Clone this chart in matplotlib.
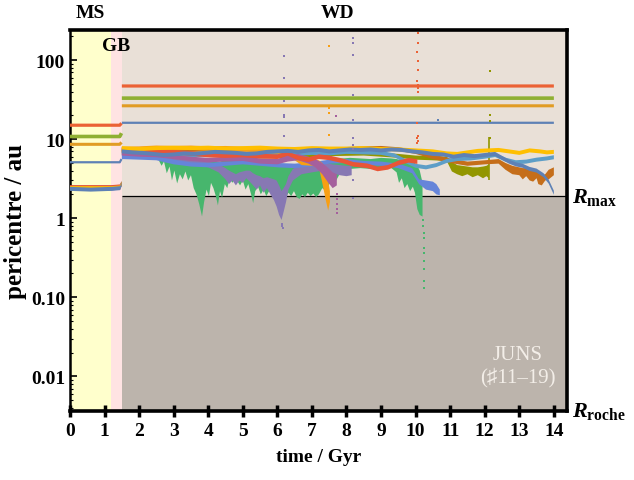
import numpy as np
import matplotlib
matplotlib.use("Agg")
import matplotlib.pyplot as plt
import matplotlib.transforms as mtransforms

plt.rcParams['font.family'] = ['Liberation Serif', 'DejaVu Serif', 'DejaVu Sans']
plt.rcParams['font.weight'] = 'bold'
plt.rcParams['mathtext.fontset'] = 'custom'
plt.rcParams['mathtext.rm'] = 'Liberation Serif:bold'
plt.rcParams['mathtext.it'] = 'Liberation Serif:italic:bold'

nan = np.nan

# phase boundaries (Gyr) and critical radii (au)
t_ms_end = 1.18
t_gb_end = 1.5
r_max = 1.9
r_roche = 0.0037

# outer planets: (time, pericentre)
far_red = [(0, 15.0), (1.44, 15.0), (1.49, 15.9), (1.495, nan), (1.5, 47.0), (14.0, 47.0)]
far_green = [(0, 10.8), (1.44, 10.8), (1.49, 11.9), (1.495, nan), (1.5, 33.0), (14.0, 33.0)]
far_orange = [(0, 8.6), (1.44, 8.6), (1.49, 9.1), (1.495, nan), (1.5, 26.4), (14.0, 26.4)]
far_blue = [(0, 5.1), (1.44, 5.1), (1.49, 5.6), (1.495, nan), (1.5, 16.1), (14.0, 16.1)]

# inner planets: (time, lower, upper) pericentre envelope
inner_green = [(0, 2.3, 2.5), (1.2, 2.3, 2.5), (1.45, 2.35, 2.55), (1.49, 2.6, 2.85), (1.495, nan, nan),
               (1.5, 6.9, 7.9), (1.8, 6.8, 7.7), (2.1, 6.6, 7.5), (2.4, 6.2, 7.3), (2.55, 5.6, 7.1),
               (2.65, 4.6, 6.9), (2.72, 5.2, 6.6), (2.8, 3.7, 6.4), (2.88, 4.5, 6.0), (2.95, 3.0, 5.8),
               (3.02, 4.0, 5.7), (3.1, 2.75, 5.6), (3.18, 3.6, 5.6), (3.26, 3.1, 5.7), (3.34, 3.9, 5.7),
               (3.42, 3.0, 5.5), (3.5, 3.5, 5.4), (3.58, 2.4, 5.3), (3.66, 2.0, 5.2), (3.74, 1.5, 5.2),
               (3.82, 1.05, 5.1), (3.88, 1.6, 5.2), (3.95, 2.3, 5.3), (4.02, 1.9, 5.4), (4.08, 2.8, 5.5),
               (4.15, 2.4, 5.4), (4.22, 1.9, 5.3), (4.28, 1.45, 5.2), (4.34, 2.2, 5.2), (4.4, 1.8, 5.3),
               (4.48, 2.7, 5.5), (4.55, 2.4, 5.6), (4.62, 3.2, 5.6), (4.7, 2.8, 5.7), (4.78, 3.3, 5.7),
               (4.85, 2.9, 5.6), (4.92, 2.6, 5.5), (5.0, 3.0, 5.4), (5.08, 2.3, 5.3), (5.16, 2.7, 5.2),
               (5.24, 2.0, 5.1), (5.3, 1.55, 5.0), (5.36, 2.2, 4.9), (5.44, 2.5, 4.8), (5.52, 2.0, 4.8),
               (5.6, 2.3, 4.7), (5.68, 1.9, 4.7), (5.76, 2.2, 4.6), (5.84, 2.0, 4.6), (5.92, 2.3, 4.7),
               (6.0, 2.0, 4.7), (6.08, 1.8, 4.6), (6.16, 2.1, 4.6), (6.24, 1.8, 4.7), (6.32, 2.1, 4.8),
               (6.4, 1.9, 4.7), (6.48, 2.2, 4.6), (6.56, 1.85, 4.5), (6.64, 1.75, 4.5), (6.72, 2.0, 4.5),
               (6.8, 1.85, 4.6), (6.88, 2.1, 4.6), (6.96, 1.9, 4.7), (7.04, 2.05, 4.7), (7.12, 1.85, 4.8),
               (7.2, 2.0, 4.9), (7.3, 2.4, 5.1), (7.4, 2.2, 5.2), (7.5, 2.7, 5.4), (7.6, 2.9, 5.5),
               (7.7, 3.0, 5.6), (7.8, 3.6, 5.7), (7.9, 3.9, 5.7), (8.1, 4.2, 5.8), (8.4, 4.3, 5.7),
               (8.7, 4.2, 5.6), (9.0, 4.4, 5.8), (9.3, 4.3, 5.7), (9.45, 3.8, 5.6), (9.52, 2.8, 5.5),
               (9.6, 3.2, 5.5), (9.68, 2.4, 5.4), (9.76, 2.7, 5.4), (9.84, 2.2, 5.3), (9.92, 2.5, 5.1),
               (9.98, 2.1, 5.0), (10.05, 1.3, 4.6), (10.12, 1.1, 4.0), (10.2, 1.05, 2.8)]
inner_purple = [(0, 2.25, 2.45), (1.2, 2.25, 2.45), (1.45, 2.3, 2.5), (1.49, 2.55, 2.8), (1.495, nan, nan),
                (1.5, 6.3, 7.2), (2.0, 6.0, 6.9), (2.5, 5.6, 6.5), (3.0, 5.2, 6.0), (3.5, 4.9, 5.7),
                (4.0, 4.4, 5.2), (4.3, 3.8, 4.8), (4.5, 3.1, 4.3), (4.6, 2.7, 4.0), (4.7, 3.0, 3.8),
                (4.8, 2.6, 3.6), (4.9, 3.0, 3.8), (5.0, 2.8, 3.9), (5.1, 3.2, 4.0), (5.2, 2.9, 4.0),
                (5.3, 2.6, 3.7), (5.4, 2.3, 3.5), (5.5, 2.6, 3.4), (5.6, 2.1, 3.2), (5.7, 2.4, 3.3),
                (5.8, 2.0, 3.2), (5.9, 1.7, 3.1), (5.98, 1.4, 3.0), (6.05, 1.1, 2.6), (6.12, 0.95, 2.2),
                (6.18, 1.2, 2.4), (6.25, 1.6, 2.7), (6.32, 2.3, 3.4), (6.45, 3.0, 4.2),
                (6.7, 3.6, 4.8), (7.0, 3.8, 5.0), (7.3, 4.0, 5.1), (7.6, 3.7, 4.8), (7.8, 3.5, 4.7),
                (8.0, 3.4, 4.6), (8.15, 3.5, 4.6)]
inner_magenta = [(0, 2.3, 2.45), (1.2, 2.3, 2.45), (1.45, 2.35, 2.5), (1.49, 2.6, 2.8), (1.495, nan, nan),
                 (1.5, 6.2, 6.9), (2.0, 6.0, 6.7), (2.5, 5.9, 6.6), (3.0, 5.6, 6.3), (3.5, 5.3, 6.0),
                 (4.0, 5.1, 5.8), (4.5, 5.2, 6.0), (5.0, 5.3, 6.1), (5.5, 4.9, 5.7), (6.0, 4.8, 5.6),
                 (6.3, 5.2, 6.3), (6.6, 5.4, 6.5), (6.9, 4.9, 6.0), (7.1, 4.4, 5.6), (7.3, 3.6, 5.0),
                 (7.45, 2.9, 4.4), (7.6, 2.4, 3.8), (7.72, 2.6, 3.6)]
inner_orange = [(0, 2.35, 2.5), (1.2, 2.35, 2.5), (1.45, 2.4, 2.55), (1.49, 2.65, 2.85), (1.495, nan, nan),
                (1.5, 7.1, 8.0), (2.0, 7.2, 8.1), (2.5, 7.3, 8.3), (3.0, 7.2, 8.2), (3.5, 7.3, 8.3),
                (4.0, 7.1, 8.1), (4.5, 7.2, 8.2), (5.0, 7.0, 8.0), (5.5, 6.8, 7.8), (6.0, 6.5, 7.4),
                (6.4, 5.8, 6.8), (6.7, 4.7, 5.6), (7.0, 4.6, 5.5), (7.2, 4.4, 5.4), (7.3, 2.8, 5.0),
                (7.4, 1.7, 4.2), (7.47, 1.25, 3.0), (7.52, 1.6, 2.2)]
inner_royal = [(0, 2.25, 2.4), (1.2, 2.25, 2.4), (1.45, 2.3, 2.45), (1.49, 2.5, 2.7), (1.495, nan, nan),
               (1.5, 5.6, 6.4), (2.0, 5.5, 6.3), (2.5, 5.4, 6.2), (3.0, 4.8, 5.5), (3.5, 4.5, 5.1),
               (4.0, 4.4, 5.0), (4.5, 4.6, 5.2), (5.0, 4.8, 5.4), (5.5, 4.6, 5.2), (6.0, 4.4, 5.0),
               (6.5, 4.3, 4.9), (7.0, 4.5, 5.1), (7.5, 4.9, 5.5), (8.0, 5.0, 5.6), (8.5, 4.7, 5.3),
               (9.0, 4.6, 5.2), (9.5, 4.3, 4.9), (9.9, 3.7, 4.3), (10.1, 2.7, 3.1), (10.3, 2.3, 3.0),
               (10.5, 2.2, 2.9), (10.6, 2.0, 2.7), (10.7, 1.95, 2.3)]
inner_olive = [(0, 2.35, 2.5), (1.2, 2.35, 2.5), (1.45, 2.4, 2.55), (1.49, 2.65, 2.85), (1.495, nan, nan),
               (1.5, 6.6, 7.4), (2.5, 6.4, 7.2), (3.5, 6.2, 7.0), (4.5, 6.0, 6.8), (5.5, 5.7, 6.5),
               (6.5, 5.8, 6.6), (7.5, 6.1, 6.9), (8.5, 6.2, 7.0), (9.5, 5.8, 6.5), (10.0, 5.5, 6.2),
               (10.5, 5.4, 6.1), (10.9, 5.3, 6.0), (11.05, 3.9, 5.2), (11.2, 3.6, 4.7), (11.35, 3.4, 4.6),
               (11.5, 3.6, 4.5), (11.65, 3.3, 4.4), (11.8, 3.5, 4.4), (11.95, 3.2, 4.5), (12.05, 3.4, 4.6),
               (12.12, 3.2, 4.8)]
inner_brown = [(0, 2.4, 2.55), (1.2, 2.4, 2.55), (1.45, 2.45, 2.6), (1.49, 2.7, 2.9), (1.495, nan, nan),
               (1.5, 7.0, 7.8), (2.5, 6.9, 7.7), (3.5, 7.0, 7.8), (4.5, 6.9, 7.7), (5.5, 7.0, 7.8),
               (6.5, 7.1, 7.9), (7.5, 7.0, 7.8), (8.5, 7.3, 8.1), (9.0, 7.4, 8.2), (9.5, 7.1, 7.9),
               (10.0, 6.5, 7.3), (10.5, 5.6, 6.4), (11.0, 5.0, 5.7), (11.5, 4.6, 5.2), (12.0, 4.8, 5.4),
               (12.4, 4.9, 5.6), (12.6, 4.1, 5.0), (12.8, 3.6, 4.6), (13.0, 3.5, 4.4), (13.1, 3.1, 4.3),
               (13.2, 3.4, 4.3), (13.3, 3.0, 4.1), (13.4, 2.9, 4.0), (13.5, 3.2, 3.9), (13.55, 2.7, 3.8),
               (13.65, 2.6, 3.5), (13.75, 3.0, 3.6), (13.85, 3.1, 4.1), (14.0, 3.5, 4.4)]

# inner planets with a roughly constant band: (time, pericentre)
inner_red = [(0, 2.45), (1.2, 2.45), (1.45, 2.5), (1.49, 2.75), (1.495, nan),
             (1.5, 7.3), (2.0, 7.0), (2.5, 6.9), (3.0, 6.8), (3.5, 6.6), (4.0, 6.3), (4.5, 6.2),
             (5.0, 6.3), (5.5, 6.1), (6.0, 6.0), (6.3, 6.6), (6.6, 5.8), (6.9, 5.5), (7.2, 6.0),
             (7.5, 5.8), (7.9, 5.3), (8.2, 4.8), (8.6, 4.6), (8.9, 4.2), (9.2, 4.4), (9.5, 5.0),
             (9.8, 5.4), (10.05, 5.2)]
inner_lightblue = [(0, 2.45), (1.2, 2.45), (1.45, 2.5), (1.49, 2.8), (1.495, nan),
                   (1.5, 6.6), (2.0, 6.4), (2.5, 6.2), (3.0, 6.3), (3.5, 6.2), (4.0, 6.4), (4.5, 6.5),
                   (5.0, 6.3), (5.5, 6.4), (6.0, 6.6), (6.5, 6.5), (7.0, 6.7), (7.5, 6.6), (8.0, 6.9),
                   (8.5, 6.8), (9.0, 6.7), (9.4, 6.2), (9.7, 5.3), (10.0, 4.6), (10.3, 4.4), (10.6, 4.7),
                   (10.9, 5.3), (11.2, 5.6), (11.6, 5.7), (12.0, 6.0), (12.3, 6.3), (12.6, 5.5),
                   (12.9, 5.1), (13.2, 5.2), (13.5, 5.5), (13.8, 5.7), (14.0, 5.9)]
inner_yellow = [(0, 2.4), (1.2, 2.4), (1.45, 2.45), (1.49, 2.75), (1.495, nan),
                (1.5, 7.7), (2.0, 7.5), (2.5, 7.7), (3.0, 7.8), (3.5, 7.7), (4.0, 7.8), (4.5, 7.6),
                (5.0, 7.7), (5.5, 7.8), (6.0, 7.6), (6.5, 7.5), (7.0, 7.7), (7.5, 7.6), (8.0, 7.6),
                (8.5, 7.7), (9.0, 7.5), (9.5, 7.4), (10.0, 7.2), (10.5, 7.0), (10.9, 6.6), (11.2, 6.5),
                (11.5, 6.8), (11.8, 7.1), (12.1, 7.2), (12.4, 7.3), (12.7, 7.0), (13.0, 6.7),
                (13.3, 7.2), (13.6, 7.0), (13.8, 6.8), (14.0, 6.9)]
inner_blue = [(0, 2.35), (0.6, 2.3), (1.2, 2.35), (1.45, 2.4), (1.49, 2.7), (1.495, nan),
              (1.5, 7.0), (1.8, 6.8), (2.1, 6.7), (2.4, 6.5), (2.7, 6.3), (3.0, 6.4), (3.3, 6.6),
              (3.6, 6.5), (3.9, 6.7), (4.2, 6.9), (4.5, 6.8), (4.8, 6.7), (5.1, 6.5), (5.4, 6.6),
              (5.7, 6.9), (6.0, 7.0), (6.3, 7.1), (6.6, 6.9), (6.9, 7.2), (7.2, 7.3), (7.5, 7.0),
              (7.8, 7.2), (8.1, 7.4), (8.4, 7.3), (8.7, 7.4), (9.0, 7.2), (9.3, 7.4), (9.6, 7.3),
              (9.9, 7.0), (10.2, 6.8), (10.5, 6.5), (10.8, 6.4), (11.1, 6.0), (11.4, 6.3), (11.7, 6.1),
              (12.0, 6.3), (12.3, 6.5), (12.5, 5.8), (12.7, 5.2), (12.9, 4.8), (13.1, 4.6), (13.3, 4.2),
              (13.5, 4.0), (13.7, 3.5), (13.85, 2.9), (14.0, 2.1)]

# scattered encounter points: (time, pericentre)
dots_red = [(10.06, 220), (10.07, 164), (10.05, 126), (10.07, 97), (10.06, 75), (10.05, 54),
            (10.06, 48), (10.07, 44), (10.06, 40), (10.05, 16), (10.06, 11), (10.05, 10.3),
            (10.06, 9.5), (10.05, 8.9)]
dots_purple = [(6.2, 112), (6.2, 59), (6.2, 30), (6.2, 20), (6.2, 19), (6.2, 10.9),
               (6.14, 0.85), (6.14, 0.8), (6.15, 0.75),
               (8.18, 190), (8.18, 164), (8.18, 116), (8.18, 36), (8.18, 17.4), (8.18, 10.3),
               (8.18, 8.4), (8.18, 7.5), (8.18, 3.0), (8.18, 1.79)]
dots_orange = [(7.5, 150), (7.5, 24.7), (7.5, 21.3), (7.5, 11.2)]
dots_magenta = [(7.7, 19.5), (7.72, 2.0), (7.72, 1.75), (7.72, 1.5), (7.72, 1.3), (7.72, 1.16)]
dots_olive = [(12.15, 73), (12.15, 20), (12.15, 17), (12.15, 10.3)]
dots_green = [(10.22, 0.94), (10.22, 0.79), (10.23, 0.65), (10.23, 0.56), (10.24, 0.42),
              (10.24, 0.36), (10.24, 0.29), (10.25, 0.23), (10.25, 0.16), (10.25, 0.13)]
dots_blue = [(10.64, 17.4)]
olive_spike = (12.12, 3.0, 10.5)

c_blue = '#5E81B5'
c_orange = '#E19C24'
c_green = '#8FB032'
c_red = '#EB6235'
c_purple = '#8778B3'
c_brown = '#C56E1A'
c_lightblue = '#5D9EC7'
c_yellow = '#FFBF00'
c_magenta = '#A5609D'
c_olive = '#929600'
c_red2 = '#E95536'
c_royal = '#6685D9'
c_orange2 = '#F89F13'
c_emerald = '#47B66D'

fig = plt.figure(figsize=(6.34, 4.81), dpi=100)
ax = fig.add_axes([70/634, 1-411.5/481, 497/634, 380.5/481])
xmax = 14.38
ymin, ymax = r_roche, 240
ax.set_yscale('log')
ax.set_xlim(0, xmax)
ax.set_ylim(ymin, ymax)

# evolutionary phases
ax.axvspan(0, t_ms_end, color='#FFFFCC', lw=0, zorder=0)
ax.axvspan(t_ms_end, t_gb_end, color='#FFE3E3', lw=0, zorder=0)
ax.fill_between([t_gb_end, xmax], r_max, ymax, color='#E9E0D7', lw=0, zorder=0)
ax.fill_between([t_gb_end, xmax], ymin, r_max, color='#BCB4AC', lw=0, zorder=0)
ax.hlines(r_max, t_gb_end, xmax, color='k', lw=0.9, zorder=1)


def band(data, c, z):
    d = np.array(data, dtype=float)
    ax.fill_between(d[:, 0], d[:, 1], d[:, 2], color=c, lw=0, zorder=z)


def strip(data, c, z, spread=1.07):
    d = np.array(data, dtype=float)
    ax.fill_between(d[:, 0], d[:, 1]/spread, d[:, 1]*spread, color=c, lw=0, zorder=z)


def dots(data, c):
    d = np.array(data, dtype=float)
    ax.scatter(d[:, 0], d[:, 1], s=2.5, marker='s', color=c, lw=0, zorder=5)


# inner planets, back to front
band(inner_green, c_emerald, 2)
band(inner_purple, c_purple, 2.1)
band(inner_olive, c_olive, 2.2)
ax.vlines(olive_spike[0], olive_spike[1], olive_spike[2], color=c_olive, lw=1.2, zorder=2.2)
band(inner_brown, c_brown, 2.3)
strip(inner_lightblue, c_lightblue, 2.4, 1.06)
band(inner_royal, c_royal, 2.5)
band(inner_orange, c_orange2, 2.6)
band(inner_magenta, c_magenta, 2.7)
strip(inner_red, c_red2, 2.8)
strip(inner_yellow, c_yellow, 2.9, 1.06)
strip(inner_blue, c_blue, 3.0, 1.06)

for pts, c, lw in [(far_red, c_red, 2.3), (far_green, c_green, 2.6),
                   (far_orange, c_orange, 2.2), (far_blue, c_blue, 1.6)]:
    d = np.array(pts, dtype=float)
    ax.plot(d[:, 0], d[:, 1], color=c, lw=lw, solid_capstyle='butt', zorder=4)

dots(dots_red, c_red)
dots(dots_purple, c_purple)
dots(dots_orange, c_orange2)
dots(dots_magenta, c_magenta)
dots(dots_olive, c_olive)
dots(dots_green, c_emerald)
dots(dots_blue, c_blue)

# axes styling
ax.set_xticks(range(0, 15))
ax.set_yticks([0.01, 0.1, 1, 10, 100])
ax.set_yticklabels(['0.01', '0.10', '1', '10', '100'])
ax.tick_params(axis='x', direction='inout', length=9, width=2.5, labelsize=14, pad=4)
ax.tick_params(axis='y', which='major', direction='in', length=5, width=1.2, labelsize=14)
ax.tick_params(axis='y', which='minor', direction='in', length=2.5, width=0.8)
for lab in ax.get_xticklabels() + ax.get_yticklabels():
    lab.set_fontweight('bold')
for side in ['top', 'right', 'bottom']:
    ax.spines[side].set_linewidth(2.6)
ax.spines['left'].set_linewidth(1.8)

ax.set_xlabel('time / Gyr', fontsize=14, fontweight='bold', labelpad=6)
ax.set_ylabel('pericentre / au', fontsize=18, fontweight='bold', labelpad=3)

tr = mtransforms.blended_transform_factory(ax.transData, ax.transAxes)
ax.text(0.6, 1.045, 'MS', transform=tr, ha='center', va='center', fontsize=14, fontweight='bold')
ax.text(7.75, 1.045, 'WD', transform=tr, ha='center', va='center', fontsize=14, fontweight='bold')
ax.text(1.33, 0.958, 'GB', transform=tr, ha='center', va='center', fontsize=14, fontweight='bold')

tr2 = mtransforms.blended_transform_factory(ax.transAxes, ax.transData)
ax.text(1.01, r_max, r'$R_{\mathrm{max}}$', transform=tr2, ha='left', va='center', fontsize=16)
ax.text(1.01, r_roche, r'$R_{\mathrm{roche}}$', transform=tr2, ha='left', va='center', fontsize=16)

ax.text(12.95, 0.148, 'JUNS', transform=tr, ha='center', va='center', fontsize=15,
        fontweight='normal', color='#F3EEE8')
ax.text(12.95, 0.088, '(♯11–19)', transform=tr, ha='center', va='center', fontsize=15,
        fontweight='normal', color='#F3EEE8', family=['Liberation Serif', 'DejaVu Serif', 'DejaVu Sans'])

fig.savefig('out.png', dpi=100)
